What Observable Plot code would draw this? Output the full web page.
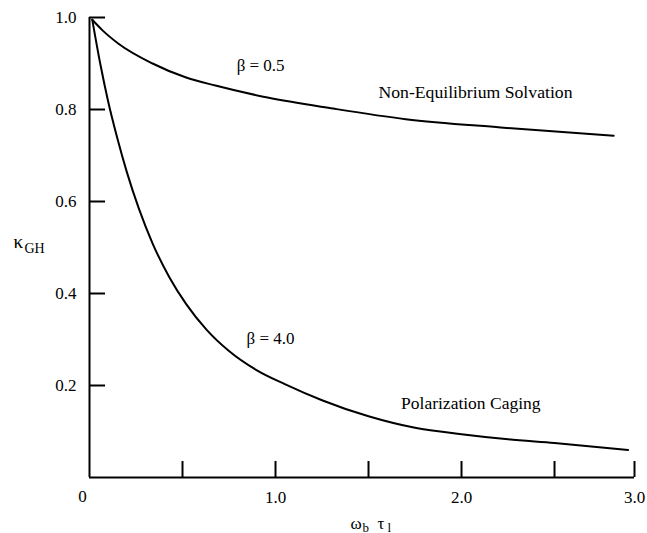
<!DOCTYPE html>
<html><head><meta charset="utf-8">
<script src="https://cdn.jsdelivr.net/npm/d3@7"></script>
<script src="https://cdn.jsdelivr.net/npm/@observablehq/plot@0.6"></script>
<style>body{margin:0;background:#fff}</style>
</head><body>
<script>
// beta = 0.5 (Non-Equilibrium Solvation)
const omega05 = [0.015, 0.07, 0.156, 0.339, 0.516, 0.677, 0.957, 1.31, 1.7, 2.21, 2.87];
const kappa05 = [0.995, 0.972, 0.943, 0.900, 0.870, 0.852, 0.826, 0.802, 0.779, 0.761, 0.743];
// beta = 4.0 (Polarization Caging)
const omega40 = [0.015, 0.06, 0.10, 0.15, 0.20, 0.265, 0.34, 0.43, 0.52, 0.63, 0.75, 0.90, 1.05, 1.25, 1.50, 1.75, 2.0, 2.25, 2.5, 2.96];
const kappa40 = [0.995, 0.895, 0.818, 0.737, 0.665, 0.585, 0.508, 0.435, 0.377, 0.321, 0.275, 0.233, 0.203, 0.168, 0.133, 0.108, 0.094, 0.083, 0.075, 0.060];

const xTicks = [0.5, 1, 1.5, 2, 2.5, 3];
const xTickLabels = [1, 2, 3];
const xOrigin = [0];
const yTicks = [0.2, 0.4, 0.6, 0.8, 1.0];

const labelText = ["β = 0.5", "Non-Equilibrium Solvation", "β = 4.0", "Polarization Caging"];
const labelX = [0.92, 2.075, 0.973, 2.05];
const labelY = [0.896, 0.837, 0.302, 0.161];
const labelSize = [17, 17.7, 17, 17.5];

const rows = [
  ...omega05.map((w, i) => ({beta: "0.5", w, k: kappa05[i]})),
  ...omega40.map((w, i) => ({beta: "4.0", w, k: kappa40[i]}))
];
const labels = labelText.map((t, i) => ({t, x: labelX[i], y: labelY[i], s: labelSize[i]}));

const fmt = d => d.toFixed(1);
// the original figure's last axis segment (2.5 to 3.0) is drawn shorter than the others
const squeeze = w => (w <= 2.5 ? w : 2.5 + (w - 2.5) * 0.86);
const serif = "'Liberation Serif', 'Times New Roman', serif";

const svg = Plot.plot({
  width: 647,
  height: 533,
  marginLeft: 89,
  marginRight: 13,
  marginTop: 17,
  marginBottom: 56,
  style: {fontFamily: serif, fontSize: "17px", color: "black", background: "white"},
  x: {domain: [0, squeeze(3)], transform: squeeze, axis: null},
  y: {domain: [0, 1], axis: null},
  marks: [
    Plot.ruleX([0], {y1: 0, y2: 1, stroke: "black", strokeWidth: 2}),
    Plot.ruleY([0], {x1: 0, x2: 3, stroke: "black", strokeWidth: 2}),
    Plot.axisY(yTicks, {anchor: "left", tickSize: -16, tickPadding: 29, tickFormat: fmt, strokeWidth: 2, fontSize: 17}),
    Plot.axisX(xTicks, {anchor: "bottom", tickSize: -16, tickPadding: 29, tickFormat: d => xTickLabels.includes(d) ? fmt(d) : "", strokeWidth: 2, fontSize: 17}),
    Plot.axisX(xOrigin, {anchor: "bottom", tickSize: 0, tickPadding: 12, tickFormat: d => String(d), dx: -7, fontSize: 17}),
    Plot.line(rows, {x: "w", y: "k", z: "beta", stroke: "black", strokeWidth: 2, curve: "monotone-x"}),
    Plot.text(labels, {x: "x", y: "y", text: "t", fontSize: "s", fontFamily: serif}),
    // axis titles with subscripts
    Plot.text(["κ"], {frameAnchor: "left", text: d => d, textAnchor: "start", lineAnchor: "bottom", dx: -76, dy: 0, fontSize: 19, fontFamily: serif}),
    Plot.text(["GH"], {frameAnchor: "left", text: d => d, textAnchor: "start", lineAnchor: "bottom", dx: -65, dy: 5, fontSize: 14, fontFamily: serif}),
    Plot.text(["ω"], {frameAnchor: "bottom", text: d => d, textAnchor: "start", lineAnchor: "bottom", dx: -11.5, dy: 51, fontSize: 17, fontFamily: serif}),
    Plot.text(["b"], {frameAnchor: "bottom", text: d => d, textAnchor: "start", lineAnchor: "bottom", dx: 0.5, dy: 54, fontSize: 13, fontFamily: serif}),
    Plot.text(["τ"], {frameAnchor: "bottom", text: d => d, textAnchor: "start", lineAnchor: "bottom", dx: 15.5, dy: 51, fontSize: 17, fontFamily: serif}),
    Plot.text(["l"], {frameAnchor: "bottom", text: d => d, textAnchor: "start", lineAnchor: "bottom", dx: 25.5, dy: 54, fontSize: 13, fontFamily: serif})
  ]
});
document.body.appendChild(svg);
</script>
</body></html>
